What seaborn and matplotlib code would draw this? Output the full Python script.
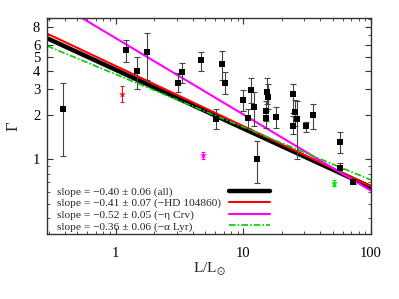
import numpy as np
import pandas as pd
import matplotlib
matplotlib.use("Agg")
import matplotlib.pyplot as plt
import matplotlib.ticker as mticker
import seaborn as sns

# ---- data ----
lum = [0.388, 1.21, 1.47, 1.76, 3.08, 3.32, 4.67, 6.82, 7.2, 6.12, 9.95, 11.5, 12.1, 10.9,
       15.3, 15.6, 15.1, 15.1, 18.0, 24.5, 25.4, 26.4, 24.5, 31.0, 35.2, 57.2, 57.2, 72.3, 12.8]
gamma = [2.22, 5.6, 4.03, 5.43, 3.34, 3.97, 4.72, 4.5, 3.34, 1.9, 2.56, 2.99, 2.29, 1.93,
         2.9, 2.68, 2.15, 1.93, 1.96, 2.77, 2.12, 1.9, 1.70, 1.68, 2.02, 1.31, 0.88, 0.70, 1.0]
gamma_hi = [3.34, 6.55, 5.02, 7.31, 3.85, 4.57, 5.43, 5.51, 3.91, 2.19, 2.95, 3.56, 2.9, 2.19,
            3.61, 3.29, 2.52, 2.15, 2.26, 3.29, 2.56, 2.52, 1.99, 1.81, 2.4, 1.53, 0.95, 0.72, 1.33]
gamma_lo = [1.05, 4.64, 3.04, 3.5, 2.9, 3.34, 4.03, 3.5, 2.81, 1.6, 2.15, 2.44, 1.70, 1.65,
            2.4, 2.22, 1.84, 1.65, 1.65, 2.06, 1.70, 1.0, 1.50, 1.53, 1.62, 1.1, 0.855, 0.68, 0.69]

# excluded stars
special_names = ["HD 104860", "eta Crv", "alpha Lyr"]
special_lum = [1.12, 4.84, 51.3]
special_gamma = [2.81, 1.065, 0.687]
special_hi = [3.14, 1.13, 0.72]
special_lo = [2.48, 1.0, 0.655]
special_colors = ["#e41a1c", "#ff00ff", "#00dd00"]

# power-law fits  Gamma = A * L^slope
fit_labels = ["slope = \u22120.40 \u00b1 0.06 (all)",
              "slope = \u22120.41 \u00b1 0.07 (\u2212HD 104860)",
              "slope = \u22120.52 \u00b1 0.05 (\u2212\u03b7 Crv)",
              "slope = \u22120.36 \u00b1 0.06 (\u2212\u03b1 Lyr)"]
fit_slope = [-0.40, -0.41, -0.52, -0.36]
fit_norm = [4.08, 4.33, 6.7, 3.8]
fit_colors = ["black", "#ff0000", "#ff00ff", "#00cc00"]
fit_widths = [3.2, 1.5, 1.5, 1.2]
fit_styles = ["-", "-", "-", (0, (4, 1.2, 1, 1.2))]

x_ticks = [1, 10, 100]
y_ticks = [1, 2, 3, 4, 5, 6, 8]

# ---- plotting ----
sns.set_theme(style="ticks")
plt.rcParams["font.family"] = ["Liberation Serif", "DejaVu Serif"]
plt.rcParams["mathtext.fontset"] = "stix"

fig = plt.figure(figsize=(3.99, 2.99), dpi=100)
ax = fig.add_axes([0.118, 0.217, 0.812, 0.723])

xmin, xmax = 0.29, 100
ax.set_xscale("log")
ax.set_yscale("log")

xx = np.array([xmin, xmax])
for lab, s, a, c, w, ls in zip(fit_labels, fit_slope, fit_norm, fit_colors, fit_widths, fit_styles):
    df = pd.DataFrame({"L": xx, "G": a * xx ** s})
    sns.lineplot(data=df, x="L", y="G", ax=ax, color=c, lw=w, linestyle=ls, label=lab)

# main sample with error bars
g = np.array(gamma)
ax.errorbar(lum, g, yerr=[g - np.array(gamma_lo), np.array(gamma_hi) - g], fmt="none",
            ecolor="#444444", elinewidth=0.8, capsize=2, capthick=0.8, zorder=3)
sns.scatterplot(x=lum, y=gamma, ax=ax, marker="s", color="black", s=22, edgecolor="black",
                linewidth=0, zorder=4, legend=False)

for nm, x, y, hi, lo, c in zip(special_names, special_lum, special_gamma, special_hi, special_lo, special_colors):
    ax.errorbar([x], [y], yerr=[[y - lo], [hi - y]], fmt="none", ecolor=c, elinewidth=0.8,
                capsize=1.5, capthick=0.8, zorder=3)
    sns.scatterplot(x=[x], y=[y], ax=ax, marker="*", color=c, s=18, linewidth=0.3,
                    edgecolor=c, zorder=4, legend=False)

ax.set_xlim(xmin, xmax)
ax.set_ylim(0.31, 9.2)

ax.xaxis.set_major_locator(mticker.FixedLocator(x_ticks))
ax.xaxis.set_major_formatter(mticker.FixedFormatter([str(t) for t in x_ticks]))
ax.xaxis.set_minor_locator(mticker.LogLocator(base=10, subs=np.arange(2, 10), numticks=20))
ax.xaxis.set_minor_formatter(mticker.NullFormatter())
ax.yaxis.set_major_locator(mticker.FixedLocator(y_ticks))
ax.yaxis.set_major_formatter(mticker.FixedFormatter([str(t) for t in y_ticks]))
minor_y = [0.4, 0.5, 0.6, 0.7, 0.8, 0.9, 7, 9]
ax.yaxis.set_minor_locator(mticker.FixedLocator(minor_y))
ax.yaxis.set_minor_formatter(mticker.NullFormatter())

ax.tick_params(which="both", direction="in", top=True, right=True, labelsize=10.5, colors="#333333",
               labelcolor="black")
ax.tick_params(which="major", length=4, width=0.8)
ax.tick_params(which="minor", length=2, width=0.6)
ax.tick_params(axis="x", pad=9)
ax.tick_params(axis="y", pad=5)
for sp in ax.spines.values():
    sp.set_color("#333333")
    sp.set_linewidth(1.0)

ax.set_xlabel(r"L/L$_{\odot}$", fontsize=11, labelpad=1)
ax.set_ylabel("\u0393", fontsize=12, rotation=90, labelpad=8)

# gnuplot-style key: text left-aligned, samples in a column on the right
leg = ax.legend(loc="lower left", bbox_to_anchor=(0.01, -0.02), frameon=False, fontsize=8.2,
                markerfirst=False, handlelength=3.6, handletextpad=0.5, labelspacing=0.12,
                borderaxespad=0.2)
for col in leg._legend_handle_box.get_children():
    col.align = "left"
    for item in col.get_children():
        item.mode = "expand"
        item.width = 213

fig.savefig("out.png", dpi=100)
